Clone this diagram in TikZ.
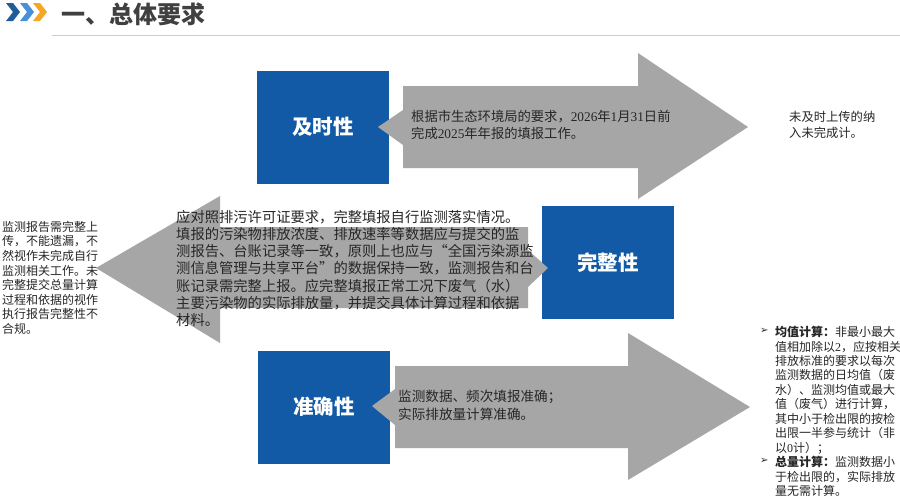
\documentclass[tikz,border=0pt]{standalone}
\usepackage{fontspec}
\setmainfont{Noto Sans CJK SC}
\newfontfamily\lat{Liberation Serif}
\newfontfamily\symf{DejaVu Sans}
\definecolor{boxblue}{RGB}{18,90,165}
\definecolor{arrgray}{RGB}{166,166,166}
\definecolor{txt}{RGB}{38,38,38}
\definecolor{chevA}{RGB}{31,92,153}
\definecolor{chevB}{RGB}{74,144,217}
\definecolor{chevC}{RGB}{245,166,35}
\tikzset{
  bluebox/.style={fill=boxblue, draw=none, minimum width=132pt, minimum height=113pt, inner sep=0pt,
    text=white, font=\fontsize{20.5}{24}\selectfont\bfseries},
  arrowshape/.style={fill=arrgray, draw=none},
  bodytext/.style={anchor=north west, inner sep=0pt, align=left, text=txt},
  bulletmark/.style={anchor=north west, inner sep=0pt, text=txt, font=\symf\fontsize{10}{14.45}\selectfont},
}
\begin{document}
\begin{tikzpicture}[x=1pt,y=-1pt]
\useasboundingbox (0,0) rectangle (900,499);
\fill[white] (0,0) rectangle (900,499);
% header
\foreach \xx/\cc in {6/chevA,20/chevB,33/chevC}{
  \fill[\cc] (\xx,3) -- ++(7,0) -- ++(7,9) -- ++(-7,9) -- ++(-7,0) -- ++(7,-9) -- cycle;
}
\node[anchor=west, inner sep=0pt, text=black!75, font=\fontsize{24}{28}\selectfont\bfseries] (title) at (61,14) {一、总体要求};
\draw[black!20, line width=1pt] (52,35.5) -- (900,35.5);
% blue boxes
\node[bluebox] (b1) at (323,127) {及时性};
\node[bluebox] (b2) at (608,262.5) {完整性};
\node[bluebox] (b3) at (324,407) {准确性};
% arrows
\fill[arrowshape] (378,127) -- (403,110) -- (403,86) -- (638,86) -- (638,53) -- (748,127)
  -- (638,199) -- (638,168) -- (403,168) -- (403,145) -- cycle;
\fill[arrowshape] (548,268) -- (528,250) -- (528,227) -- (220,227) -- (220,196) -- (96,268)
  -- (220,343) -- (220,308) -- (528,308) -- (528,287) -- cycle;
\fill[arrowshape] (372,406) -- (395,389) -- (395,366) -- (628,366) -- (628,333) -- (750,407)
  -- (628,480) -- (628,448) -- (395,448) -- (395,425) -- cycle;
% texts
\node[bodytext, font=\fontsize{13.3}{17}\selectfont] (t1) at (411,110.5)
  {根据市生态环境局的要求，{\lat 2026}年{\lat 1}月{\lat 31}日前\\完成{\lat 2025}年年报的填报工作。};
\node[bodytext, font=\fontsize{12.3}{16}\selectfont] (r1) at (789,110.5)
  {未及时上传的纳\\入未完成计。};
\node[bodytext, font=\fontsize{14.3}{17.2}\selectfont] (t2) at (176,210)
  {应对照排污许可证要求，完整填报自行监测落实情况。\\
   填报的污染物排放浓度、排放速率等数据应与提交的监\\
   测报告、台账记录等一致，原则上也应与“全国污染源监\\
   测信息管理与共享平台”的数据保持一致，监测报告和台\\
   账记录需完整上报。应完整填报正常工况下废气（水）\\
   主要污染物的实际排放量，并提交具体计算过程和依据\\
   材料。};
\node[bodytext, font=\fontsize{12}{14.6}\selectfont] (l2) at (2,221)
  {监测报告需完整上\\传，不能遗漏，不\\然视作未完成自行\\监测相关工作。未\\完整提交总量计算\\过程和依据的视作\\执行报告完整性不\\合规。};
\node[bodytext, font=\fontsize{13.6}{17.5}\selectfont] (t3) at (398,390)
  {监测数据、频次填报准确；\\实际排放量计算准确。};
\node[bodytext, font=\fontsize{12}{14.45}\selectfont] (r3) at (775,326)
  {{\bfseries 均值计算：}非最小最大\\
   值相加除以{\lat 2}，应按相关\\
   排放标准的要求以每次\\
   监测数据的日均值（废\\
   水）、监测均值或最大\\
   值（废气）进行计算，\\
   其中小于检出限的按检\\
   出限一半参与统计（非\\
   以{\lat 0}计）；\\
   {\bfseries 总量计算：}监测数据小\\
   于检出限的，实际排放\\
   量无需计算。};
\node[bulletmark] (bu1) at (760,327.5) {➢};
\node[bulletmark] (bu2) at (760,457.5) {➢};
\end{tikzpicture}
\end{document}
